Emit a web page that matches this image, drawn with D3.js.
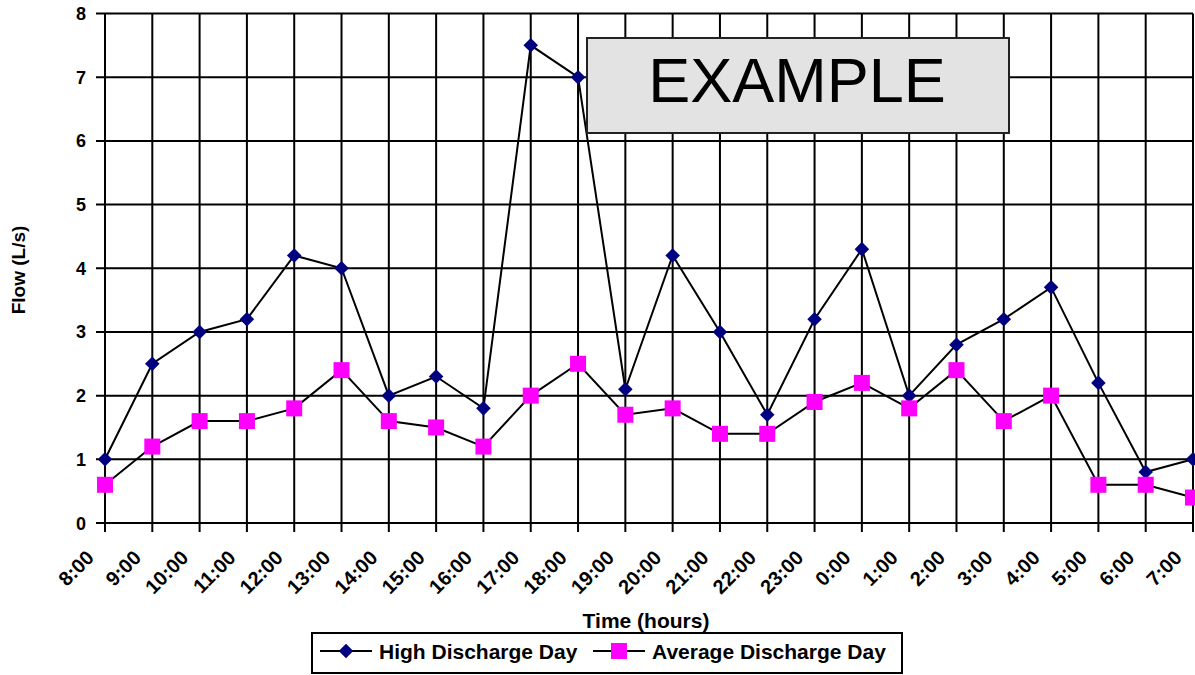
<!DOCTYPE html>
<html>
<head>
<meta charset="utf-8">
<script src="https://cdn.jsdelivr.net/npm/d3@7"></script>
<style>
  body { margin: 0; background: #fff; }
  text { font-family: "Liberation Sans", Arial, sans-serif; }
</style>
</head>
<body>
<script>
const hours = ['8:00','9:00','10:00','11:00','12:00','13:00','14:00','15:00','16:00','17:00','18:00','19:00',
               '20:00','21:00','22:00','23:00','0:00','1:00','2:00','3:00','4:00','5:00','6:00','7:00'];
const highDay = [1.0, 2.5, 3.0, 3.2, 4.2, 4.0, 2.0, 2.3, 1.8, 7.5, 7.0, 2.1,
                 4.2, 3.0, 1.7, 3.2, 4.3, 2.0, 2.8, 3.2, 3.7, 2.2, 0.8, 1.0];
const avgDay = [0.6, 1.2, 1.6, 1.6, 1.8, 2.4, 1.6, 1.5, 1.2, 2.0, 2.5, 1.7,
                1.8, 1.4, 1.4, 1.9, 2.2, 1.8, 2.4, 1.6, 2.0, 0.6, 0.6, 0.4];
const yTicks = [0, 1, 2, 3, 4, 5, 6, 7, 8];
const seriesNames = ['High Discharge Day', 'Average Discharge Day'];

const W = 1195, H = 675;
const plot = { left: 105, right: 1193, top: 13.5, bottom: 523 };

const svg = d3.select('body').append('svg')
    .attr('width', W)
    .attr('height', H);

const x = d3.scalePoint().domain(hours).range([plot.left, plot.right]);
const y = d3.scaleLinear().domain([0, 8]).range([plot.bottom, plot.top]);

// grid
const grid = svg.append('g');
grid.selectAll('.hg')
    .data(yTicks)
    .enter()
      .append('line')
        .attr('x1', plot.left - 9).attr('x2', plot.right)
        .attr('y1', d => y(d)).attr('y2', d => y(d))
        .attr('stroke', '#000').attr('stroke-width', 2);
grid.selectAll('.vg')
    .data(hours)
    .enter()
      .append('line')
        .attr('x1', d => x(d)).attr('x2', d => x(d))
        .attr('y1', plot.top).attr('y2', plot.bottom + 9)
        .attr('stroke', '#000').attr('stroke-width', 2);

// y labels
svg.append('g').selectAll('text')
    .data(yTicks)
    .enter()
      .append('text')
        .attr('x', plot.left - 19)
        .attr('y', d => y(d) + 6.5)
        .attr('text-anchor', 'end')
        .attr('font-size', 18)
        .attr('font-weight', 'bold')
        .text(d => d);

// x labels
svg.append('g').selectAll('text')
    .data(hours)
    .enter()
      .append('text')
        .attr('transform', d => `translate(${x(d) - 10},${plot.bottom + 36}) rotate(-45)`)
        .attr('text-anchor', 'end')
        .attr('font-size', 20)
        .attr('font-weight', 'bold')
        .text(d => d);

svg.append('text')
    .attr('transform', `translate(25,270) rotate(-90)`)
    .attr('text-anchor', 'middle')
    .attr('font-size', 19)
    .attr('font-weight', 'bold')
    .text('Flow (L/s)');

svg.append('text')
    .attr('x', 646).attr('y', 628)
    .attr('text-anchor', 'middle')
    .attr('font-size', 21)
    .attr('font-weight', 'bold')
    .text('Time (hours)');

const line = d3.line()
    .x((d, i) => x(hours[i]))
    .y(d => y(d));

const diamond = d3.symbol().type(d3.symbolDiamond2).size(135);

svg.append('path').datum(highDay)
    .attr('d', line).attr('fill', 'none')
    .attr('stroke', '#000').attr('stroke-width', 2);
svg.append('path').datum(avgDay)
    .attr('d', line).attr('fill', 'none')
    .attr('stroke', '#000').attr('stroke-width', 2);

svg.append('g').selectAll('path')
    .data(highDay)
    .enter()
      .append('path')
        .attr('d', diamond)
        .attr('transform', (d, i) => `translate(${x(hours[i])},${y(d)})`)
        .attr('fill', '#000080');

const SQ = 16;
svg.append('g').selectAll('rect')
    .data(avgDay)
    .enter()
      .append('rect')
        .attr('x', (d, i) => x(hours[i]) - SQ / 2)
        .attr('y', d => y(d) - SQ / 2)
        .attr('width', SQ).attr('height', SQ)
        .attr('fill', '#ff00ff');

// watermark box
svg.append('rect')
    .attr('x', 587).attr('y', 38)
    .attr('width', 422).attr('height', 95)
    .attr('fill', '#e3e3e3')
    .attr('stroke', '#222').attr('stroke-width', 2);
svg.append('text')
    .attr('x', 797).attr('y', 102)
    .attr('text-anchor', 'middle')
    .attr('font-size', 63)
    .text('EXAMPLE');

// legend
const legend = svg.append('g');
legend.append('rect')
    .attr('x', 312).attr('y', 633)
    .attr('width', 590).attr('height', 40)
    .attr('fill', '#fff')
    .attr('stroke', '#000').attr('stroke-width', 2);

const legendItems = [
  { name: seriesNames[0], lx: 320, tx: 379, kind: 'diamond' },
  { name: seriesNames[1], lx: 593, tx: 652, kind: 'square' }
];
const ly = 651;
legendItems.forEach(item => {
  legend.append('line')
      .attr('x1', item.lx).attr('x2', item.lx + 52)
      .attr('y1', ly).attr('y2', ly)
      .attr('stroke', '#000').attr('stroke-width', 2);
  const cx = item.lx + 26;
  if (item.kind === 'diamond') {
    legend.append('path')
        .attr('d', diamond)
        .attr('transform', `translate(${cx},${ly})`)
        .attr('fill', '#000080');
  } else {
    legend.append('rect')
        .attr('x', cx - SQ / 2).attr('y', ly - SQ / 2)
        .attr('width', SQ).attr('height', SQ)
        .attr('fill', '#ff00ff');
  }
  legend.append('text')
      .attr('x', item.tx).attr('y', ly + 7.5)
      .attr('font-size', 21)
      .attr('font-weight', 'bold')
      .text(item.name);
});
</script>
</body>
</html>
